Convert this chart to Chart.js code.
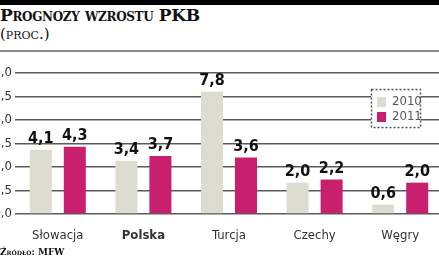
<!DOCTYPE html>
<html lang="pl">
<head>
<meta charset="UTF-8">
<title>Prognozy wzrostu PKB</title>
<script src="https://cdn.jsdelivr.net/npm/chart.js"></script>
<style>
  body {
    margin: 0;
    width: 439px;
    height: 268px;
    overflow: hidden;
    position: relative;
    background: #fff;
    font-family: 'DejaVu Serif', serif;
  }
  .topbar { /* pasek czarny na górze */
    position: absolute; left: 0; top: 0; width: 439px; height: 5px; background: #000;
  }
  .title {
    position: absolute; left: 0; top: 6px;
    font-size: 17px; font-weight: bold; font-variant: small-caps;
    letter-spacing: -0.35px;
    color: #111; line-height: 19px;
  }
  .sub {
    position: absolute; left: 0; top: 25px;
    font-size: 15px; font-variant: small-caps; color: #111; line-height: 18px;
  }
  .rule {
    position: absolute; left: 0; top: 50px; width: 439px; height: 2px; background: #8a8a8a;
  }
  .source {
    position: absolute; left: 0; top: 247px;
    font-size: 9px; font-weight: bold; font-variant: small-caps; color: #111;
  }
  #wrap {
    position: absolute; left: -20px; top: 60px; width: 463px; height: 190px;
  }
</style>
</head>
<body>
<div class="topbar"></div>
<div class="title">Prognozy wzrostu PKB</div>
<div class="sub">(proc.)</div>
<div class="rule"></div>
<div id="wrap"><canvas id="pkb"></canvas></div>
<div class="source">Źródło: MFW</div>

<script>
  // dane
  var kraje = ['Słowacja', 'Polska', 'Turcja', 'Czechy', 'Węgry'];
  var lata = ['2010', '2011'];
  var pkb2010 = [4.1, 3.4, 7.8, 2.0, 0.6];
  var pkb2011 = [4.3, 3.7, 3.6, 2.2, 2.0];
  var osY = [0, 1.5, 3.0, 4.5, 6.0, 7.5, 9.0];

  var kolory = ['#dcdcd0', '#c8206f'];
  var narrow = "'Liberation Sans Narrow', 'DejaVu Sans Condensed', sans-serif";

  function fmt(v) {
    return v.toFixed(1).replace('.', ',');
  }

  // etykiety wartości nad słupkami
  var wartosci = {
    id: 'wartosci',
    afterDatasetsDraw: function (chart) {
      var ctx = chart.ctx;
      ctx.save();
      ctx.font = 'bold 16px ' + narrow;
      ctx.fillStyle = '#111';
      ctx.textAlign = 'center';
      ctx.textBaseline = 'alphabetic';
      chart.data.datasets.forEach(function (ds, i) {
        chart.getDatasetMeta(i).data.forEach(function (bar, j) {
          ctx.fillText(fmt(ds.data[j]), bar.x, bar.y - 7);
        });
      });
      ctx.restore();
    }
  };

  // legenda w kropkowanej ramce
  var legenda = {
    id: 'legenda',
    afterDraw: function (chart) {
      var ctx = chart.ctx;
      var x = 391, y = 29, w = 50, h = 39;
      ctx.save();
      ctx.fillStyle = '#fff';
      ctx.fillRect(x, y, w, h);
      ctx.setLineDash([2, 2]);
      ctx.strokeStyle = '#555';
      ctx.lineWidth = 1.5;
      ctx.strokeRect(x + 0.5, y + 0.5, w - 1, h - 1);
      ctx.setLineDash([]);
      ctx.font = '13px ' + narrow;
      ctx.textBaseline = 'middle';
      chart.data.datasets.forEach(function (ds, i) {
        var yy = y + 13 + i * 15;
        ctx.fillStyle = ds.backgroundColor;
        ctx.fillRect(x + 6, yy - 5, 9, 10);
        ctx.fillStyle = '#555';
        ctx.fillText(ds.label, x + 21, yy);
      });
      ctx.restore();
    }
  };

  new Chart(document.getElementById('pkb'), {
    type: 'bar',
    data: {
      labels: kraje,
      datasets: [
        { label: lata[0], data: pkb2010, backgroundColor: kolory[0] },
        { label: lata[1], data: pkb2011, backgroundColor: kolory[1] }
      ]
    },
    options: {
      responsive: true,
      maintainAspectRatio: false,
      animation: false,
      layout: { padding: { top: 13, right: 0, left: 0, bottom: 0 } },
      datasets: { bar: { categoryPercentage: 0.795, barPercentage: 0.647 } },
      plugins: {
        legend: { display: false },
        tooltip: { enabled: false }
      },
      scales: {
        x: {
          grid: { display: false, drawTicks: false },
          border: { display: false },
          ticks: {
            padding: 14,
            color: '#333',
            font: function (c) {
              return { family: narrow, size: 13, weight: c.index === 1 ? 'bold' : 'normal' };
            }
          },
          afterFit: function (s) { s.height = 36; }
        },
        y: {
          min: 0,
          max: 9,
          afterBuildTicks: function (s) {
            s.ticks = osY.map(function (v) { return { value: v }; });
          },
          grid: { color: '#5a5a5a', lineWidth: 1.5, drawTicks: false },
          border: { display: false },
          ticks: {
            padding: 3,
            color: '#333',
            font: { family: narrow, size: 13 },
            callback: function (v) { return fmt(v); }
          },
          afterFit: function (s) { s.width = 35; }
        }
      }
    },
    plugins: [wartosci, legenda]
  });
</script>
</body>
</html>
